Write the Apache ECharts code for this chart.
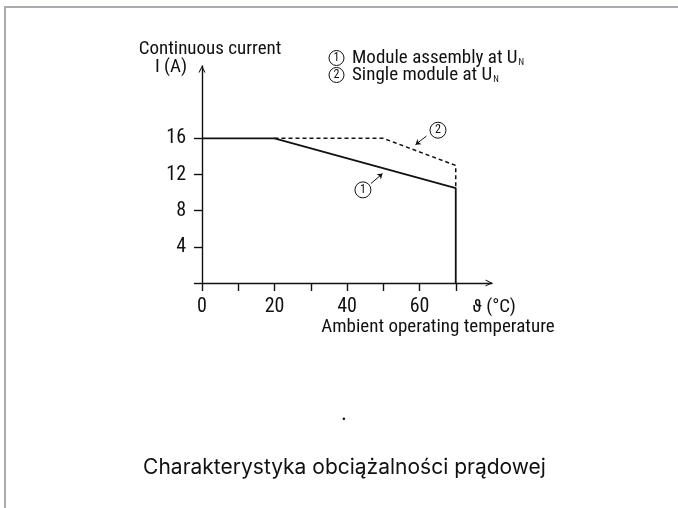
<!DOCTYPE html>
<html>
<head>
<meta charset="utf-8">
<script src="https://cdn.jsdelivr.net/npm/echarts@6/dist/echarts.min.js"></script>
<style>
  html, body { margin: 0; padding: 0; background: #fff; }
  #chart { position: absolute; left: 0; top: 0; width: 678px; height: 508px; }
  #frame { position: absolute; left: 4px; top: 6px; right: 0; bottom: 0;
           border-top: 2px solid #a9acae; border-left: 2px solid #a9acae; pointer-events: none; }
</style>
</head>
<body>
<div id="chart"></div>
<div id="frame"></div>
<script>
// curve 1: module assembly at U_N (solid)
const assemblyTemp = [0, 20, 70, 70];
const assemblyCurrent = [16, 16, 10.5, 0];
// curve 2: single module at U_N (dashed)
const singleTemp = [20, 50, 70, 70];
const singleCurrent = [16, 16, 13, 10.5];

const xTicks = [0, 10, 20, 30, 40, 50, 60, 70];
const xLabels = [0, 20, 40, 60];
const yTicks = [0, 4, 8, 12, 16];
const yLabels = [4, 8, 12, 16];

// callouts: number bubble + little arrow pointing at the curve
const callout1 = { at: [44.4, 10.3], arrow: [[46.6, 11.0], [49.8, 12.1]] };
const callout2 = { at: [65.1, 16.9], arrow: [[61.9, 16.25], [58.9, 15.3]] };

const ink = "#111";
const narrow = "'Roboto Condensed', 'DejaVu Sans Condensed', sans-serif";
const chevron = "path://M0,10 L5,0 L10,10 L8.4,10 L5,3.2 L1.6,10 Z";

const zip = (xs, ys) => xs.map((x, i) => [x, ys[i]]);

const chart = echarts.init(document.getElementById("chart"), null, { renderer: "canvas" });

const circled = {
  width: 15, height: 15, borderRadius: 8, borderColor: ink, borderWidth: 1,
  align: "center", fontSize: 12, lineHeight: 15, fontFamily: narrow, fill: ink
};
const gap = { width: 8 };
const sub = { fontSize: 9, fontFamily: narrow, fill: ink, padding: [9, 0, 0, 1] };

function txt(text, x, y, extra) {
  return {
    type: "text", x: x, y: y, silent: true,
    style: Object.assign({
      text: text, fill: ink, fontSize: 19, fontFamily: narrow,
      align: "center", verticalAlign: "middle"
    }, extra || {})
  };
}

function callout(c, label) {
  return {
    markPoint: {
      silent: true, animation: false,
      symbol: "circle", symbolSize: 16,
      itemStyle: { color: "#fff", borderColor: ink, borderWidth: 1 },
      label: { show: true, position: "inside", color: ink, fontSize: 12, fontFamily: narrow, formatter: label },
      data: [{ coord: c.at, value: 0 }]
    },
    markLine: {
      silent: true, animation: false,
      symbol: ["none", "arrow"], symbolSize: 5,
      lineStyle: { type: "solid", width: 1, color: ink },
      label: { show: false },
      data: [[{ coord: c.arrow[0] }, { coord: c.arrow[1] }]]
    }
  };
}

chart.setOption({
  animation: false,
  backgroundColor: "#fff",
  grid: { left: 202, top: 66, width: 290, height: 217, containLabel: false },
  xAxis: {
    type: "value", min: 0, max: 80, interval: 10,
    axisLine: { show: true, symbol: ["none", chevron], symbolSize: [8, 7], symbolOffset: [0, -3],
                lineStyle: { color: ink, width: 1.4 } },
    axisTick: { show: true, length: 8, customValues: xTicks, lineStyle: { color: ink, width: 1.4 } },
    axisLabel: { customValues: xLabels, color: ink, fontSize: 20, fontFamily: narrow, margin: 14 },
    splitLine: { show: false }
  },
  yAxis: {
    type: "value", min: 0, max: 24, interval: 4,
    axisLine: { show: true, symbol: ["none", chevron], symbolSize: [8, 7], symbolOffset: [0, -3],
                lineStyle: { color: ink, width: 1.4 } },
    axisTick: { show: true, length: 8, customValues: yTicks, lineStyle: { color: ink, width: 1.4 } },
    axisLabel: { customValues: yLabels, color: ink, fontSize: 20, fontFamily: narrow, margin: 16 },
    splitLine: { show: false }
  },
  series: [
    Object.assign({
      name: "Module assembly at UN", type: "line",
      data: zip(assemblyTemp, assemblyCurrent),
      symbol: "none", lineStyle: { color: ink, width: 1.8 }, z: 3
    }, callout(callout1, "1")),
    Object.assign({
      name: "Single module at UN", type: "line",
      data: zip(singleTemp, singleCurrent),
      symbol: "none", lineStyle: { color: ink, width: 1.5, type: [4, 3] }, z: 2
    }, callout(callout2, "2"))
  ],
  graphic: [
    txt("Continuous current", 210, 49),
    txt("I (A)", 171, 67),
    txt("{c|1}{g|}Module assembly at U{s|N}", 329, 58, { align: "left", rich: { c: circled, g: gap, s: sub } }),
    txt("{c|2}{g|}Single module at U{s|N}", 329, 75, { align: "left", rich: { c: circled, g: gap, s: sub } }),
    txt("\u03d1 (\u00b0C)", 494, 307),
    txt("Ambient operating temperature", 438, 327),
    txt(".", 344, 414, { fontSize: 20, fontFamily: "Inter, Roboto, sans-serif" }),
    txt("Charakterystyka obci\u0105\u017calno\u015bci pr\u0105dowej", 344.5, 468,
        { fontSize: 21, fontFamily: "Inter, Roboto, sans-serif", fill: "#111" })
  ]
});
</script>
</body>
</html>
